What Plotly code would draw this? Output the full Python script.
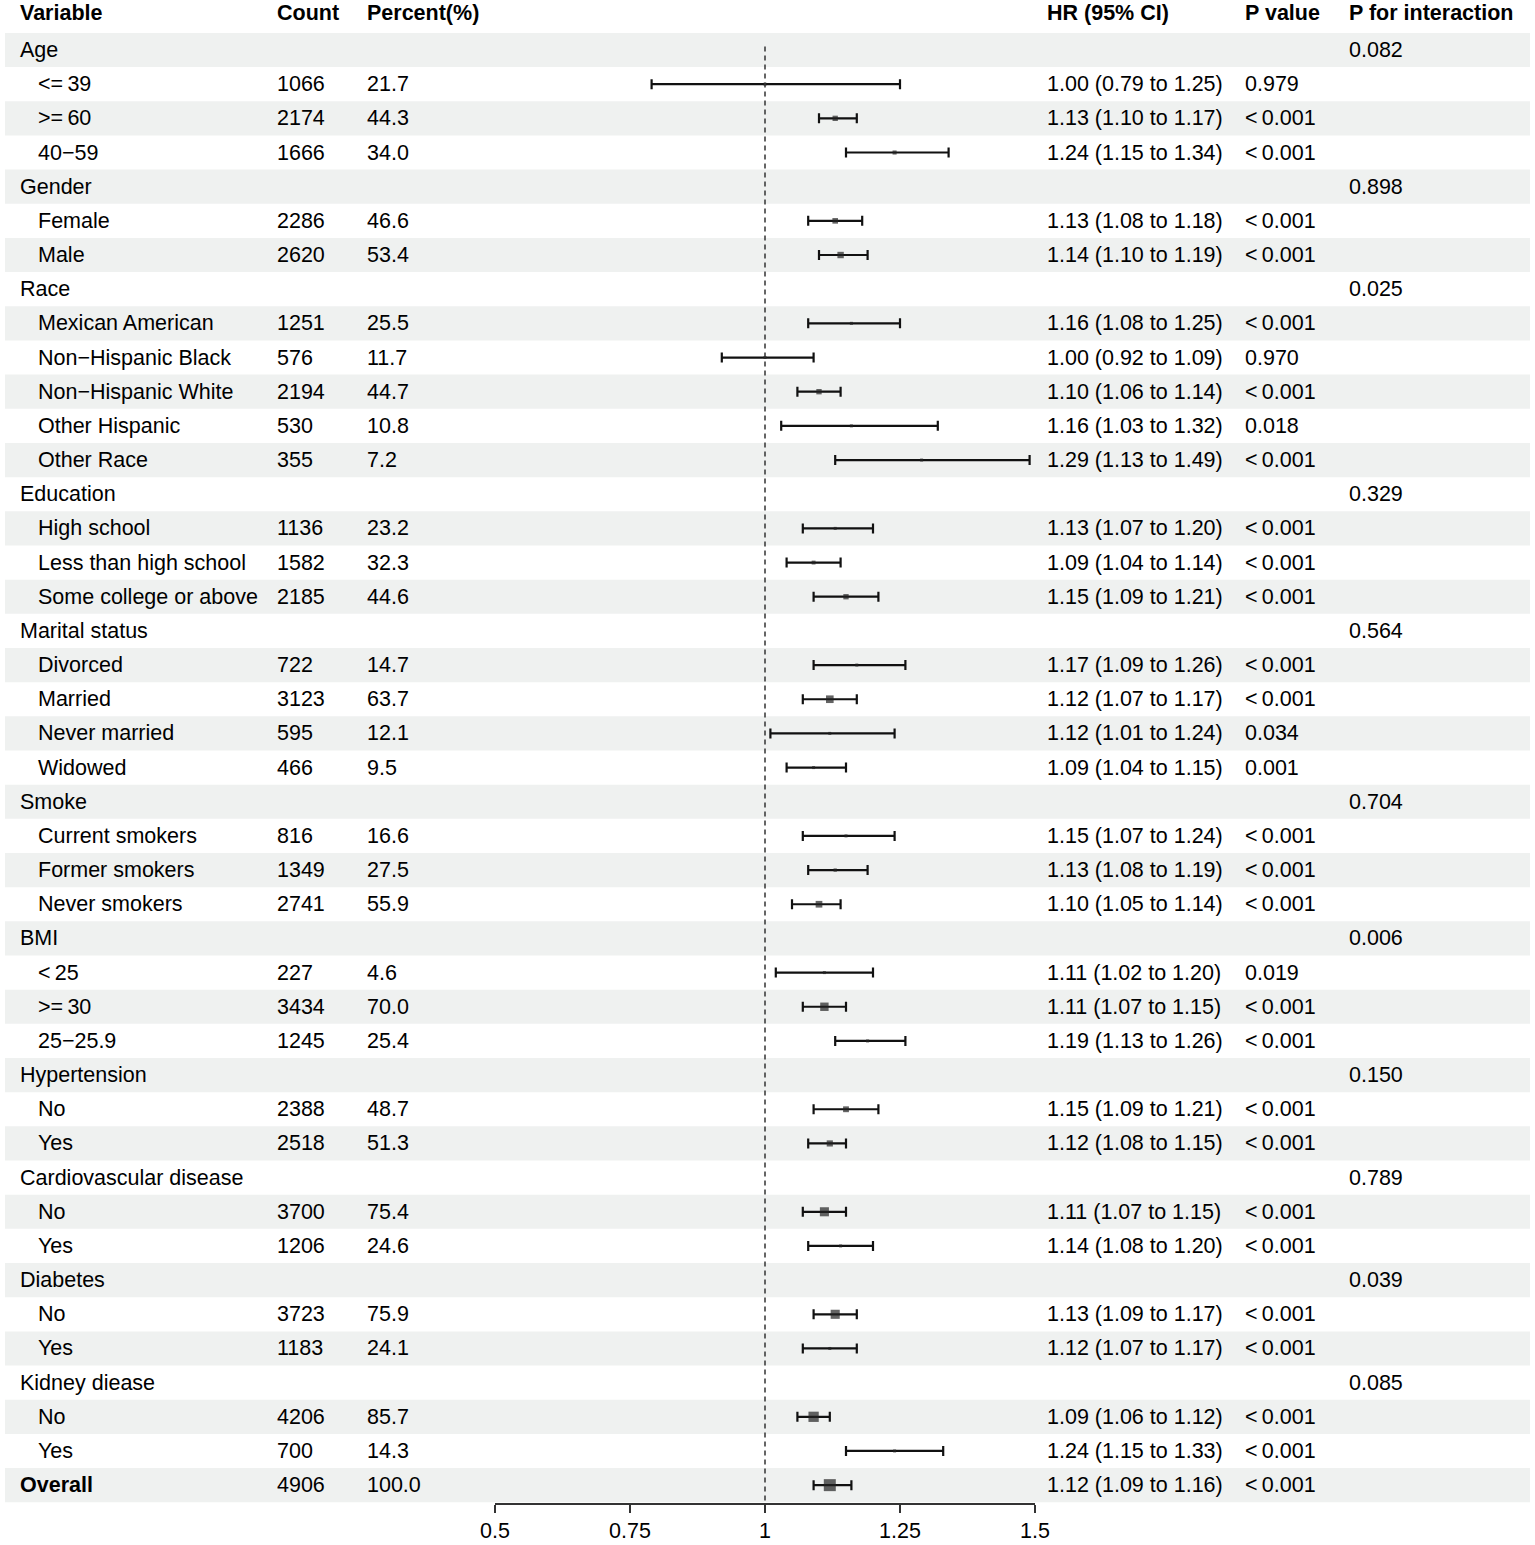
import plotly.graph_objects as go

# ---------------- data ----------------
group_names = ["Age", "Gender", "Race", "Education", "Marital status", "Smoke",
               "BMI", "Hypertension", "Cardiovascular disease", "Diabetes", "Kidney diease"]
group_sizes = [3, 2, 5, 3, 4, 3, 3, 2, 2, 2, 2]
p_interaction = ["0.082", "0.898", "0.025", "0.329", "0.564", "0.704",
                 "0.006", "0.150", "0.789", "0.039", "0.085"]

sub_labels = ["<=\u200939", ">=\u200960", "40\u221259",
              "Female", "Male",
              "Mexican American", "Non\u2212Hispanic Black", "Non\u2212Hispanic White", "Other Hispanic", "Other Race",
              "High school", "Less than high school", "Some college or above",
              "Divorced", "Married", "Never married", "Widowed",
              "Current smokers", "Former smokers", "Never smokers",
              "<\u200925", ">=\u200930", "25\u221225.9",
              "No", "Yes",
              "No", "Yes",
              "No", "Yes",
              "No", "Yes"]
counts = [1066, 2174, 1666,
          2286, 2620,
          1251, 576, 2194, 530, 355,
          1136, 1582, 2185,
          722, 3123, 595, 466,
          816, 1349, 2741,
          227, 3434, 1245,
          2388, 2518,
          3700, 1206,
          3723, 1183,
          4206, 700]
percents = ["21.7", "44.3", "34.0",
            "46.6", "53.4",
            "25.5", "11.7", "44.7", "10.8", "7.2",
            "23.2", "32.3", "44.6",
            "14.7", "63.7", "12.1", "9.5",
            "16.6", "27.5", "55.9",
            "4.6", "70.0", "25.4",
            "48.7", "51.3",
            "75.4", "24.6",
            "75.9", "24.1",
            "85.7", "14.3"]
hr = [1.00, 1.13, 1.24,
      1.13, 1.14,
      1.16, 1.00, 1.10, 1.16, 1.29,
      1.13, 1.09, 1.15,
      1.17, 1.12, 1.12, 1.09,
      1.15, 1.13, 1.10,
      1.11, 1.11, 1.19,
      1.15, 1.12,
      1.11, 1.14,
      1.13, 1.12,
      1.09, 1.24]
lo = [0.79, 1.10, 1.15,
      1.08, 1.10,
      1.08, 0.92, 1.06, 1.03, 1.13,
      1.07, 1.04, 1.09,
      1.09, 1.07, 1.01, 1.04,
      1.07, 1.08, 1.05,
      1.02, 1.07, 1.13,
      1.09, 1.08,
      1.07, 1.08,
      1.09, 1.07,
      1.06, 1.15]
hi = [1.25, 1.17, 1.34,
      1.18, 1.19,
      1.25, 1.09, 1.14, 1.32, 1.49,
      1.20, 1.14, 1.21,
      1.26, 1.17, 1.24, 1.15,
      1.24, 1.19, 1.14,
      1.20, 1.15, 1.26,
      1.21, 1.15,
      1.15, 1.20,
      1.17, 1.17,
      1.12, 1.33]
pvals = ["0.979", "<\u20090.001", "<\u20090.001",
         "<\u20090.001", "<\u20090.001",
         "<\u20090.001", "0.970", "<\u20090.001", "0.018", "<\u20090.001",
         "<\u20090.001", "<\u20090.001", "<\u20090.001",
         "<\u20090.001", "<\u20090.001", "0.034", "0.001",
         "<\u20090.001", "<\u20090.001", "<\u20090.001",
         "0.019", "<\u20090.001", "<\u20090.001",
         "<\u20090.001", "<\u20090.001",
         "<\u20090.001", "<\u20090.001",
         "<\u20090.001", "<\u20090.001",
         "<\u20090.001", "<\u20090.001"]

overall_label = "Overall"
overall_count = 4906
overall_percent = "100.0"
overall_hr, overall_lo, overall_hi = 1.12, 1.09, 1.16
overall_p = "<\u20090.001"

headers = ["Variable", "Count", "Percent(%)", "HR (95% CI)", "P value", "P for interaction"]
tick_vals = [0.5, 0.75, 1, 1.25, 1.5]
tick_text = ["0.5", "0.75", "1", "1.25", "1.5"]

# ---------------- build rows ----------------
rows = []
k = 0
for g, n, pint in zip(group_names, group_sizes, p_interaction):
    rows.append(dict(label=g, indent=False, bold=False, count="", pct="", hr=None,
                     lo=None, hi=None, p="", pint=pint))
    for _ in range(n):
        rows.append(dict(label=sub_labels[k], indent=True, bold=False, count=str(counts[k]),
                         pct=percents[k], hr=hr[k], lo=lo[k], hi=hi[k], p=pvals[k], pint="",
                         n=counts[k]))
        k += 1
rows.append(dict(label=overall_label, indent=False, bold=True, count=str(overall_count),
                 pct=overall_percent, hr=overall_hr, lo=overall_lo, hi=overall_hi,
                 p=overall_p, pint="", n=overall_count))

W, H = 1535, 1545
ROW0_PX, ROW_H = 50.0, 34.17
AXIS_PX = 1503.0


def row_of(px):
    return (px - ROW0_PX) / ROW_H


def paper_x(px):
    return px / W


FONT = "Liberation Sans, Arial, Helvetica, sans-serif"
FS = 21.5

fig = go.Figure()

shapes = []
for i, r in enumerate(rows):
    if i % 2 == 0:
        shapes.append(dict(type="rect", xref="paper", yref="y", x0=paper_x(5), x1=paper_x(1530),
                           y0=i - 0.5, y1=i + 0.5, fillcolor="#EFF1F0",
                           line=dict(width=0), layer="below"))
shapes.append(dict(type="line", xref="x", yref="y", x0=1, x1=1, y0=-0.1, y1=row_of(AXIS_PX),
                   line=dict(color="#333333", width=1.5, dash="5px,4px"), layer="above"))

plot_idx = [i for i, r in enumerate(rows) if r["hr"] is not None]
xs = [rows[i]["hr"] for i in plot_idx]
ys = [i for i in plot_idx]
err_plus = [rows[i]["hi"] - rows[i]["hr"] for i in plot_idx]
err_minus = [rows[i]["hr"] - rows[i]["lo"] for i in plot_idx]
max_n = max(rows[i]["n"] for i in plot_idx)
sizes = [max(3.0, 12.0 * rows[i]["n"] / max_n) for i in plot_idx]

fig.add_trace(go.Scatter(
    x=xs, y=ys, mode="markers",
    marker=dict(symbol="square", size=sizes, color="#222222", line=dict(width=0)),
    error_x=dict(type="data", symmetric=False, array=err_plus, arrayminus=err_minus,
                 thickness=2.2, width=5, color="#111111"),
    cliponaxis=False, hoverinfo="skip", showlegend=False,
))

col_x = {"label": 18, "indent": 36, "count": 275, "pct": 365, "hr": 1045, "p": 1243, "pint": 1347}
annotations = []


def add_text(px, y, text, bold=False):
    if text == "":
        return
    annotations.append(dict(xref="paper", yref="y", x=paper_x(px), y=y,
                            text=("<b>%s</b>" % text) if bold else text,
                            xanchor="left", yanchor="middle", showarrow=False,
                            font=dict(family=FONT, size=FS, color="#000000")))


hdr_y = row_of(13)
for px, t in zip([18, 275, 365, 1045, 1243, 1347], headers):
    add_text(px, hdr_y, t, bold=True)

for i, r in enumerate(rows):
    add_text(col_x["indent"] if r["indent"] else col_x["label"], i, r["label"], bold=r["bold"])
    add_text(col_x["count"], i, r["count"])
    add_text(col_x["pct"], i, r["pct"])
    if r["hr"] is not None:
        add_text(col_x["hr"], i, "%.2f (%.2f to %.2f)" % (r["hr"], r["lo"], r["hi"]))
    add_text(col_x["p"], i, r["p"])
    add_text(col_x["pint"], i, r["pint"])

fig.update_layout(
    width=W, height=H,
    margin=dict(l=0, r=0, t=0, b=0),
    paper_bgcolor="white", plot_bgcolor="rgba(0,0,0,0)",
    shapes=shapes, annotations=annotations,
    font=dict(family=FONT, size=FS, color="#000000"),
    xaxis=dict(domain=[paper_x(495), paper_x(1035)], range=[0.5, 1.5],
               tickvals=tick_vals, ticktext=tick_text,
               showgrid=False, zeroline=False, showline=True, linecolor="#333333", linewidth=1.5,
               ticks="outside", ticklen=8, tickwidth=1.5, tickcolor="#333333",
               tickfont=dict(family=FONT, size=FS, color="#000000"), automargin=False,
               fixedrange=True),
    yaxis=dict(domain=[(H - AXIS_PX) / H, 1], range=[row_of(AXIS_PX), row_of(0)],
               showgrid=False, zeroline=False, showline=False, showticklabels=False,
               ticks="", automargin=False, fixedrange=True),
)

# remove the browser's default 8px page margin so the figure fills the window
fig.write_html("out.html",
               config={"displayModeBar": False, "staticPlot": True},
               post_script="document.body.style.margin='0px';document.body.style.overflow='hidden';")
